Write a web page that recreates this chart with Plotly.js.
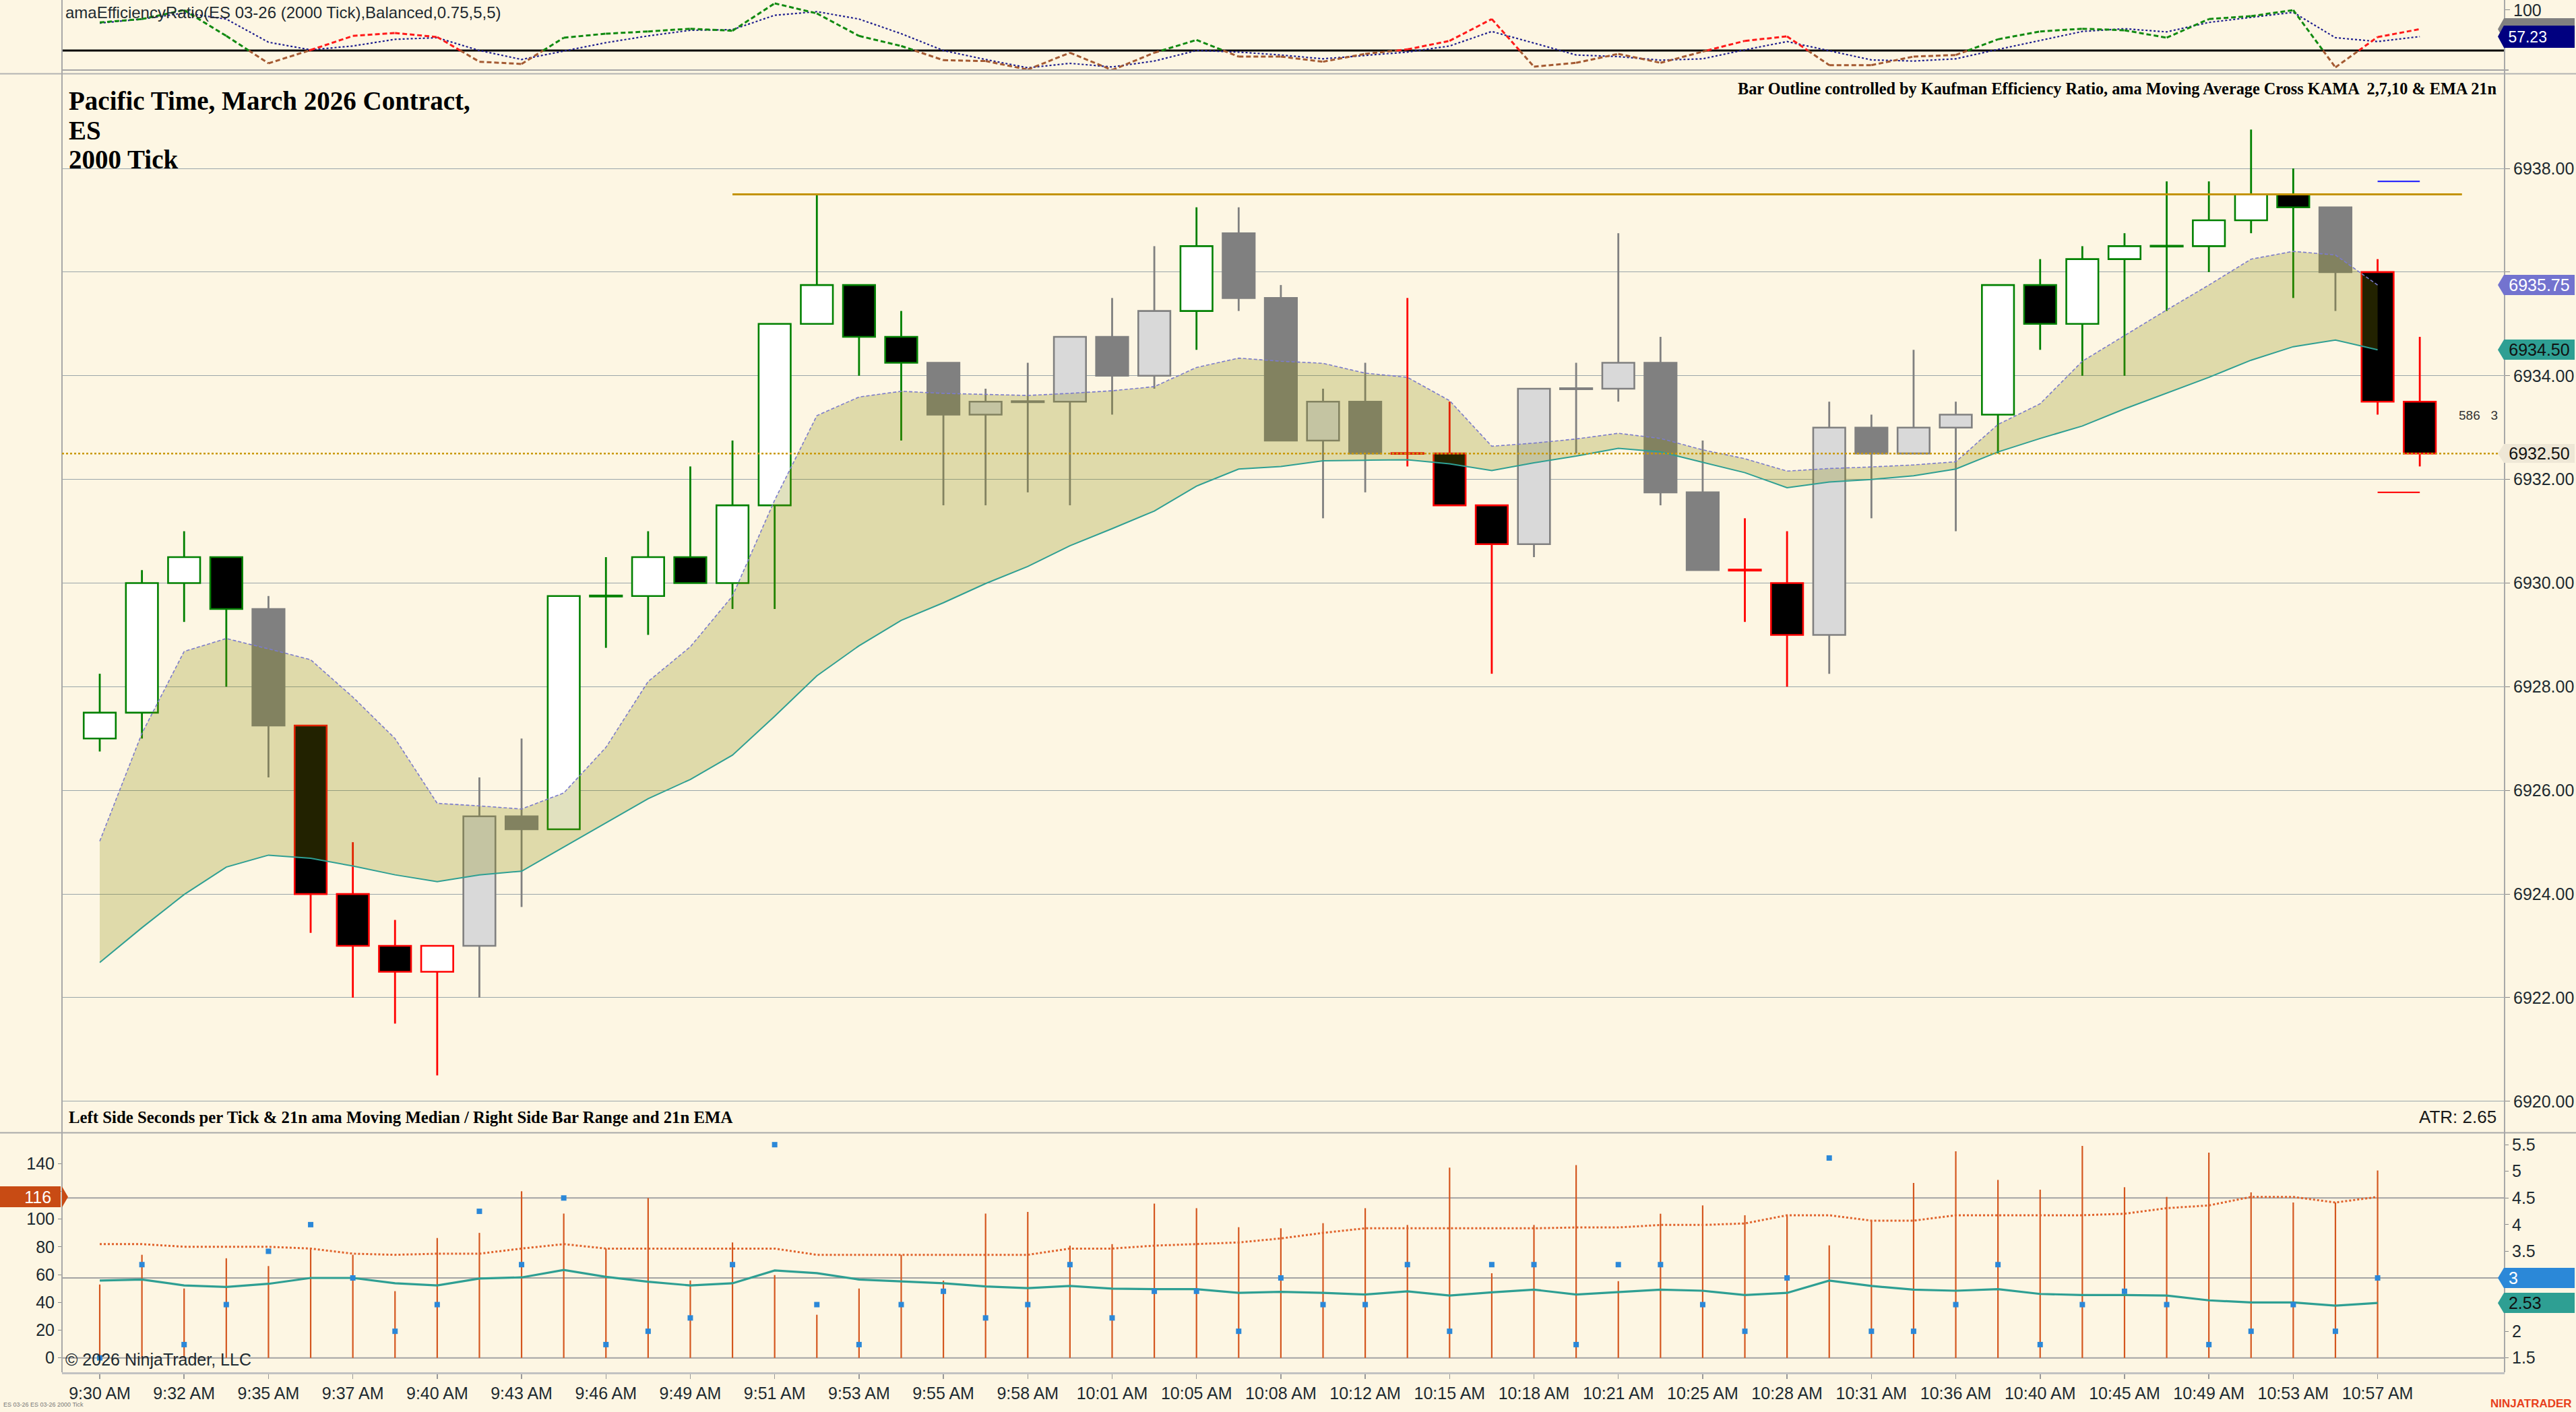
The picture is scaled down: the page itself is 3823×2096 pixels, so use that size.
<!DOCTYPE html>
<html><head><meta charset="utf-8">
<script src="https://cdn.plot.ly/plotly-3.0.1.min.js"></script>
<style>html,body{margin:0;padding:0;background:#fdf6e3;} #chart{width:3823px;height:2096px;}</style>
</head><body><div id="chart"></div>
<script>
// ---------------- DATA ----------------
const times = ['9:30 AM','9:32 AM','9:35 AM','9:37 AM','9:40 AM','9:43 AM','9:46 AM','9:49 AM','9:51 AM','9:53 AM','9:55 AM','9:58 AM','10:01 AM','10:05 AM','10:08 AM','10:12 AM','10:15 AM','10:18 AM','10:21 AM','10:25 AM','10:28 AM','10:31 AM','10:36 AM','10:40 AM','10:45 AM','10:49 AM','10:53 AM','10:57 AM'];

const open  = [6927.0,6927.5,6930.0,6930.5,6929.5,6927.25,6924.0,6923.0,6922.5,6923.0,6925.5,6925.25,6929.75,6929.75,6930.5,6930.0,6931.5,6935.0,6935.75,6934.75,6934.25,6933.25,6933.5,6933.5,6934.75,6934.0,6935.25,6936.75,6935.5,6932.75,6933.5,6932.5,6932.5,6931.5,6930.75,6933.75,6933.75,6934.25,6931.75,6930.25,6930.0,6929.0,6933.0,6932.5,6933.0,6933.25,6935.75,6935.0,6936.25,6936.5,6936.5,6937.0,6937.5,6937.25,6936.0,6933.5];
const high  = [6928.25,6930.25,6931.0,6930.5,6929.75,6927.25,6925.0,6923.5,6923.0,6926.25,6927.0,6929.75,6930.5,6931.0,6932.25,6932.75,6935.0,6937.5,6935.75,6935.25,6934.25,6933.75,6934.25,6934.75,6935.5,6936.5,6937.25,6937.25,6935.75,6933.75,6934.25,6935.5,6933.5,6931.5,6933.75,6934.25,6936.75,6934.75,6932.75,6931.25,6931.0,6933.5,6933.25,6934.5,6933.5,6935.75,6936.25,6936.5,6936.75,6937.75,6937.75,6938.75,6938.0,6937.25,6936.25,6934.75];
const low   = [6926.75,6927.0,6929.25,6928.0,6926.25,6923.25,6922.0,6921.5,6920.5,6922.0,6923.75,6925.25,6928.75,6929.0,6930.0,6929.5,6929.5,6935.0,6934.0,6932.75,6931.5,6931.5,6931.75,6931.5,6933.25,6933.75,6934.5,6935.25,6932.75,6931.25,6931.75,6932.25,6931.5,6928.25,6930.5,6932.5,6933.5,6931.5,6930.25,6929.25,6928.0,6928.25,6931.25,6932.5,6931.0,6932.5,6934.5,6934.0,6934.0,6935.25,6936.0,6936.75,6935.5,6935.25,6933.25,6932.25];
const close = [6927.5,6930.0,6930.5,6929.5,6927.25,6924.0,6923.0,6922.5,6923.0,6925.5,6925.25,6929.75,6929.75,6930.5,6930.0,6931.5,6935.0,6935.75,6934.75,6934.25,6933.25,6933.5,6933.5,6934.75,6934.0,6935.25,6936.5,6935.5,6932.75,6933.5,6932.5,6932.5,6931.5,6930.75,6933.75,6933.75,6934.25,6931.75,6930.25,6930.25,6929.0,6933.0,6932.5,6933.0,6933.25,6935.75,6935.0,6936.25,6936.5,6936.5,6937.0,6937.5,6937.25,6936.0,6933.5,6932.5];

// Kaufman efficiency-ratio state per bar (controls bar outline)
const erState = ['up','up','up','up','flat','down','down','down','down','flat','flat','up','up','up','up','up','up','up','up','up','flat','flat','flat','flat','flat','flat','up','flat','flat','flat','flat','down','down','down','flat','flat','flat','flat','flat','down','down','flat','flat','flat','flat','up','up','up','up','up','up','up','up','flat','down','down'];

// KAMA (upper band edge) and EMA 21 (lower band edge)
const kama = [6925.02,6927.1,6928.68,6928.93,6928.73,6928.52,6927.8,6927.0,6925.75,6925.7,6925.64,6925.95,6926.83,6928.1,6928.77,6929.75,6931.6,6933.23,6933.59,6933.7,6933.66,6933.64,6933.62,6933.66,6933.71,6933.79,6934.16,6934.34,6934.28,6934.24,6934.05,6933.97,6933.52,6932.64,6932.7,6932.78,6932.89,6932.79,6932.57,6932.4,6932.16,6932.21,6932.24,6932.28,6932.34,6933.06,6933.46,6934.28,6934.78,6935.27,6935.75,6936.25,6936.4,6936.33,6935.75];
const ema21 = [6922.68,6923.35,6923.99,6924.52,6924.75,6924.69,6924.54,6924.37,6924.24,6924.37,6924.44,6924.91,6925.38,6925.84,6926.21,6926.68,6927.43,6928.21,6928.79,6929.28,6929.62,6929.99,6930.32,6930.72,6931.05,6931.39,6931.87,6932.2,6932.25,6932.36,6932.37,6932.38,6932.3,6932.17,6932.32,6932.45,6932.6,6932.53,6932.33,6932.13,6931.84,6931.95,6932.0,6932.07,6932.2,6932.53,6932.79,6933.03,6933.36,6933.67,6933.97,6934.3,6934.56,6934.69,6934.5];

const resistanceLevel = 6937.5, resistanceFrom = 15, resistanceTo = 56;
const projHigh = 6937.75, projLow = 6931.75, projFrom = 54, projTo = 55;

// Efficiency ratio panel
const erValue  = [80.1,85.5,100,58.3,14.0,35.5,58.3,63.0,56.5,16.6,13.0,55.4,61.9,65.5,69.9,66.6,110.9,94.6,58.3,42.0,19.1,17.7,3.9,31.1,3.2,31.1,51.8,24.9,24.9,16.6,29.3,36.5,50.3,85.5,8.6,14.8,29.3,14.8,32.9,50.3,57.6,11.1,11.1,24.9,27.5,52.8,65.5,69.9,67.4,55.4,85.5,90.2,100,7.5,56.5,69.2];
const erSignal = [79.0,85.5,95.3,85.5,48.1,35.8,42.0,52.8,55.4,34.7,20.2,33.6,47.4,58.3,67.4,68.4,91.7,97.5,85.5,61.9,34.7,20.2,6.8,14.0,8.2,17.7,34.7,32.2,27.5,21.3,26.4,32.2,42.0,65.5,46.7,27.5,24.9,19.1,21.3,35.8,49.2,34.7,19.5,17.7,21.3,36.5,51.0,65.5,69.9,64.8,80.1,88.0,96.4,55.4,49.2,57.23];
const erThreshold = 34.7;

// Lower panel
const secPerTick = [52.9,74.3,50.0,71.8,66.2,78.8,74.3,48.1,86.4,90.1,120.1,104.0,78.8,115.2,55.8,83.2,59.7,31.1,50.0,74.3,55.7,104.0,105.2,80.9,82.0,111.2,107.9,94.2,93.4,97.1,107.9,95.8,137.1,61.0,95.8,139.0,55.3,103.9,109.9,102.8,103.1,81.1,99.0,126.1,148.9,128.2,121.2,152.8,123.0,116.0,147.9,119.3,112.0,112.0,135.1];
const secMedian = [82.0,82.0,80.1,80.1,80.1,78.8,75.1,74.3,75.1,75.1,78.8,82.0,78.8,78.8,78.8,78.8,78.8,74.3,74.3,74.3,74.3,74.3,74.3,78.8,78.8,80.9,82.0,83.2,86.1,90.1,93.4,93.4,93.4,93.4,93.4,94.0,94.0,95.8,95.8,96.9,102.8,102.8,98.9,98.9,102.8,102.8,102.8,102.8,103.9,107.9,109.9,116.0,116.0,112.0,116.0];
const barRange = [1.5,3.25,1.75,2.5,3.5,4.0,3.0,2.0,2.5,4.25,3.25,4.5,1.75,2.0,2.25,3.25,5.5,2.5,1.75,2.5,2.75,2.25,2.5,3.25,2.25,2.75,2.75,2.0,3.0,2.5,2.5,3.25,2.0,3.25,3.25,1.75,3.25,3.25,2.5,2.0,3.0,5.25,2.0,2.0,2.5,3.25,1.75,2.5,2.75,2.5,1.75,2.0,2.5,2.0,3.0];
const rangeEma = [2.95,2.97,2.86,2.83,2.89,3.0,3.0,2.9,2.86,2.99,3.01,3.15,3.02,2.93,2.86,2.9,3.14,3.09,2.97,2.93,2.9,2.84,2.81,2.85,2.8,2.79,2.79,2.72,2.74,2.72,2.69,2.75,2.67,2.73,2.78,2.69,2.74,2.78,2.76,2.68,2.72,2.95,2.85,2.78,2.76,2.79,2.7,2.68,2.68,2.67,2.58,2.54,2.54,2.48,2.53];

const atrText = 'ATR: 2.65';

// tick labels
const priceTicks = [6920,6922,6924,6926,6928,6930,6932,6934,6936,6938];
const secTicks = [0,20,40,60,80,100,120,140];
const rangeTicks = [1.5,2,2.5,3,3.5,4,4.5,5,5.5];

// ---------------- LAYOUT HELPERS ----------------
const W = 3823, H = 2096;
const px = v => v / W;
const py = v => 1 - v / H;
const xDom = [px(92), px(3717)];
const BG = '#fdf6e3';
const SANS = 'Liberation Sans, Arial, sans-serif';
const SERIF = 'Liberation Serif, Times New Roman, serif';

const idx = open.map((_, i) => i);
const idxB = secPerTick.map((_, i) => i);
const idxK = kama.map((_, i) => i);

const outlineColors = {up: '#008000', down: '#ff0000', flat: '#808080'};
const outline = erState.map(s => outlineColors[s]);
const bodyFill = idx.map(i => {
  const up = close[i] >= open[i];
  if (erState[i] === 'flat') return up ? '#d9d9d9' : '#808080';
  return up ? '#ffffff' : '#000000';
});
const bodyBase = idx.map(i => close[i] === open[i] ? open[i] - 0.008 : Math.min(open[i], close[i]));
const bodyLen  = idx.map(i => close[i] === open[i] ? 0.016 : Math.abs(close[i] - open[i]));

const lastClose = close[close.length - 1];
const lastKama = kama[kama.length - 1], lastEma = ema21[ema21.length - 1];
const lastRange = barRange[barRange.length - 1], lastRangeEma = rangeEma[rangeEma.length - 1];
const lastMedian = secMedian[secMedian.length - 1];
const lastEr = erValue[erValue.length - 1], lastSig = erSignal[erSignal.length - 1];

// ---------------- TRACES ----------------
const traces = [];

// wicks
traces.push({type: 'bar', x: idx, base: low, y: idx.map(i => high[i] - low[i]), width: 0.045,
  marker: {color: outline, line: {width: 0}}, xaxis: 'x', yaxis: 'y2', hoverinfo: 'skip', showlegend: false});
// bodies
traces.push({type: 'bar', x: idx, base: bodyBase, y: bodyLen, width: 0.76,
  marker: {color: bodyFill, line: {color: outline, width: 2.6}}, xaxis: 'x', yaxis: 'y2', hoverinfo: 'skip', showlegend: false});

// band: EMA then KAMA with fill to it
traces.push({type: 'scatter', mode: 'lines', x: idxK, y: ema21, line: {color: '#2e9f93', width: 2},
  xaxis: 'x', yaxis: 'y2', hoverinfo: 'skip', showlegend: false});
traces.push({type: 'scatter', mode: 'lines', x: idxK, y: kama, line: {color: '#7b7bcc', width: 1.6, dash: '5px,3px'},
  fill: 'tonexty', fillcolor: 'rgba(136,136,0,0.25)', xaxis: 'x', yaxis: 'y2', hoverinfo: 'skip', showlegend: false});

// resistance line
traces.push({type: 'scatter', mode: 'lines', x: [resistanceFrom, resistanceTo], y: [resistanceLevel, resistanceLevel],
  line: {color: '#c39300', width: 3}, xaxis: 'x', yaxis: 'y2', hoverinfo: 'skip', showlegend: false});
// projections
traces.push({type: 'scatter', mode: 'lines', x: [projFrom, projTo], y: [projHigh, projHigh],
  line: {color: '#1010ff', width: 2.2}, xaxis: 'x', yaxis: 'y2', hoverinfo: 'skip', showlegend: false});
traces.push({type: 'scatter', mode: 'lines', x: [projFrom, projTo], y: [projLow, projLow],
  line: {color: '#ff1010', width: 2.2}, xaxis: 'x', yaxis: 'y2', hoverinfo: 'skip', showlegend: false});

// ER panel: signal line
traces.push({type: 'scatter', mode: 'lines', x: idx, y: erSignal, line: {color: '#1f1f8f', width: 2.2, dash: 'dot'},
  xaxis: 'x', yaxis: 'y', hoverinfo: 'skip', showlegend: false});
// ER colored line split by state at the threshold
const segs = {up: {x: [], y: []}, down: {x: [], y: []}, flat: {x: [], y: []}};
function addSeg(k, x0, y0, x1, y1) { segs[k].x.push(x0, x1, null); segs[k].y.push(y0, y1, null); }
function aboveKey(j, k) {
  if (erState[j] !== 'flat') return erState[j];
  if (erState[k] !== 'flat') return erState[k];
  return 'up';
}
for (let i = 1; i < erValue.length; i++) {
  const a = erValue[i - 1], b = erValue[i];
  const aA = a >= erThreshold, bA = b >= erThreshold;
  if (aA && bA) addSeg(aboveKey(i, i - 1), i - 1, a, i, b);
  else if (!aA && !bA) addSeg('flat', i - 1, a, i, b);
  else {
    const xc = i - 1 + (erThreshold - a) / (b - a);
    if (aA) { addSeg(aboveKey(i - 1, i), i - 1, a, xc, erThreshold); addSeg('flat', xc, erThreshold, i, b); }
    else { addSeg('flat', i - 1, a, xc, erThreshold); addSeg(aboveKey(i, i - 1), xc, erThreshold, i, b); }
  }
}
const segColors = {up: '#118a11', down: '#ff1a1a', flat: '#a45a32'};
['flat', 'down', 'up'].forEach(k => {
  traces.push({type: 'scatter', mode: 'lines', x: segs[k].x, y: segs[k].y, connectgaps: false,
    line: {color: segColors[k], width: 3, dash: '7px,4px'}, xaxis: 'x', yaxis: 'y', hoverinfo: 'skip', showlegend: false});
});

// Lower panel
traces.push({type: 'bar', x: idxB, base: idxB.map(() => 0), y: secPerTick, width: 0.035,
  marker: {color: '#d4561e', line: {width: 0}}, xaxis: 'x', yaxis: 'y3', hoverinfo: 'skip', showlegend: false});
traces.push({type: 'scatter', mode: 'lines', x: idxB, y: secMedian, line: {color: '#e0632c', width: 3, dash: 'dot'},
  xaxis: 'x', yaxis: 'y3', hoverinfo: 'skip', showlegend: false});
traces.push({type: 'scatter', mode: 'lines', x: idxB, y: rangeEma, line: {color: '#2e9f93', width: 3.2},
  xaxis: 'x', yaxis: 'y4', hoverinfo: 'skip', showlegend: false});
traces.push({type: 'scatter', mode: 'markers', x: idxB, y: barRange, marker: {symbol: 'square', size: 8, color: '#2b88d8'},
  xaxis: 'x', yaxis: 'y4', hoverinfo: 'skip', showlegend: false});

// ---------------- SHAPES ----------------
const shapes = [];
function pline(x0, y0, x1, y1, color, width, dash) {
  shapes.push({type: 'line', xref: 'paper', yref: 'paper', x0: px(x0), y0: py(y0), x1: px(x1), y1: py(y1),
    line: {color: color, width: width, dash: dash || 'solid'}, layer: 'above'});
}
pline(92, 104, 3723, 104, '#a5a5a5', 2);
pline(0, 109.5, 3823, 109.5, '#b3b3b3', 2);
pline(0, 1681.5, 3823, 1681.5, '#a9a9a9', 2);
pline(92, 0, 92, 2037, '#a8a8a8', 2);
pline(3717, 0, 3717, 2037, '#a8a8a8', 2);

// ER threshold line
shapes.push({type: 'line', xref: 'paper', yref: 'y', x0: xDom[0], x1: xDom[1], y0: erThreshold, y1: erThreshold,
  line: {color: '#000000', width: 3}, layer: 'below'});
// current price dotted line
shapes.push({type: 'line', xref: 'paper', yref: 'y2', x0: xDom[0], x1: xDom[1], y0: lastClose, y1: lastClose,
  line: {color: '#c99800', width: 2.5, dash: 'dot'}, layer: 'above'});
// lower panel horizontal guides (right scale)
[1.5, 3, 4.5].forEach(v => {
  shapes.push({type: 'line', xref: 'paper', yref: 'y4', x0: xDom[0], x1: xDom[1], y0: v, y1: v,
    line: {color: '#a3a3a3', width: 2}, layer: 'below'});
});

// ---------------- LABELS ----------------
const annotations = [];
function txt(text, x, y, opts) {
  annotations.push(Object.assign({text: text, x: px(x), y: py(y), xref: 'paper', yref: 'paper',
    xanchor: 'left', yanchor: 'middle', showarrow: false,
    font: {family: SANS, size: 24, color: '#1a1a1a'}}, opts || {}));
}
txt('amaEfficiencyRatio(ES 03-26 (2000 Tick),Balanced,0.75,5,5)', 95, 18, {font: {family: SANS, size: 24, color: '#1e2a30'}});
txt('<b>Pacific Time, March 2026 Contract,</b>', 100, 149, {font: {family: SERIF, size: 39, color: '#000'}});
txt('<b>ES</b>', 100, 193, {font: {family: SERIF, size: 39, color: '#000'}});
txt('<b>2000 Tick</b>', 100, 237, {font: {family: SERIF, size: 39, color: '#000'}});
txt('<b>Bar Outline controlled by Kaufman Efficiency Ratio, ama Moving Average Cross KAMA  2,7,10 &amp; EMA 21n</b>', 3707, 131,
  {xanchor: 'right', font: {family: SERIF, size: 24.3, color: '#000'}});
txt('<b>Left Side Seconds per Tick &amp; 21n ama Moving Median / Right Side Bar Range and 21n EMA</b>', 100, 1658,
  {font: {family: SERIF, size: 24.8, color: '#000'}});
txt(atrText, 3707, 1658, {xanchor: 'right', font: {family: SANS, size: 26, color: '#1a1a1a'}});
txt('\u00a9 2026 NinjaTrader, LLC', 95, 2018, {font: {family: SANS, size: 25, color: '#1e2a30'}});
txt('<b>NINJATRADER</b>', 3819, 2083, {xanchor: 'right', font: {family: SANS, size: 17, color: '#e8401c'}});
txt('ES 03-26 ES 03-26 2000 Tick', 3, 2085, {font: {family: SANS, size: 9, color: '#777'}});
txt('586\u00a0\u00a0\u00a03', 3709, 616, {xanchor: 'right', font: {family: SANS, size: 19, color: '#333'}});

function valueLabel(text, yref, yval, bg, fg, opts) {
  const o = opts || {};
  const left = o.left === undefined ? 3716 : o.left;
  const w = o.w || 107, h = o.h || 30;
  annotations.push({text: text, xref: 'paper', yref: yref, x: px(left), y: yval,
    xanchor: 'left', yanchor: 'middle', showarrow: false, width: w - 2, height: h,
    align: o.align || 'left', borderpad: 0, bgcolor: bg,
    bordercolor: o.border || bg, borderwidth: o.border ? 1 : 0,
    font: {family: SANS, size: o.size || 25, color: fg}});
  const dir = o.arrowRight ? 1 : -1;
  const ax = o.arrowRight ? left + w : left;
  shapes.push({type: 'path', xref: 'paper', yref: yref, xsizemode: 'pixel', ysizemode: 'pixel',
    xanchor: px(ax), yanchor: yval, path: `M0,${-h / 2} L${dir * 9},0 L0,${h / 2} Z`,
    fillcolor: bg, line: {width: 0}, layer: 'above'});
}
// top panel: ER value tag sits behind the signal tag
valueLabel(' ', 'y', lastEr, '#808080', '#333', {h: 32, size: 23});
valueLabel('\u00a0' + lastSig.toFixed(2), 'y', lastSig, '#000080', '#ffffff', {h: 33, size: 23});
// main panel
valueLabel(lastKama.toFixed(2), 'y2', lastKama, '#7373cf', '#ffffff', {align: 'center'});
valueLabel(lastEma.toFixed(2), 'y2', lastEma, '#2e9f93', '#111111', {align: 'center'});
valueLabel(lastClose.toFixed(2), 'y2', lastClose, '#eee7d6', '#111111', {align: 'center', h: 28});
// lower panel
valueLabel('\u00a0' + String(lastRange), 'y4', lastRange, '#2b88d8', '#ffffff', {h: 30});
valueLabel('\u00a0' + lastRangeEma.toFixed(2), 'y4', lastRangeEma, '#2e9f93', '#111111', {h: 30});
valueLabel(String(lastMedian) + '\u00a0\u00a0', 'y3', lastMedian, '#c84b14', '#ffffff',
  {left: 0, w: 92, align: 'right', arrowRight: true, h: 31});

// tick texts covered by value tags are left blank (gridlines/ticks kept)
function coveredBy(v, tags, half) { return tags.some(t => Math.abs(t - v) < half); }
const priceText = priceTicks.map(p => coveredBy(p, [lastKama, lastEma, lastClose], 0.4) ? '' : p.toFixed(2));
const secText = secTicks.map(v => coveredBy(v, [lastMedian], 10) ? '' : String(v));
const rangeText = rangeTicks.map(v => coveredBy(v, [lastRange, lastRangeEma], 0.2) ? '' : String(v));

// ---------------- AXES ----------------
const tickIdx = times.map((_, i) => i * 2);
const axFont = {family: SANS, size: 25, color: '#1e2a30'};

const layout = {
  width: W, height: H,
  margin: {l: 0, r: 0, t: 0, b: 0, pad: 0},
  paper_bgcolor: BG, plot_bgcolor: BG,
  barmode: 'overlay', hovermode: false, showlegend: false, dragmode: false,
  xaxis: {domain: xDom, range: [-0.895, 57.01], anchor: 'y3', tickmode: 'array', tickvals: tickIdx, ticktext: times,
    tickfont: axFont, ticks: 'outside', ticklen: 7, tickcolor: '#999', tickwidth: 1.5,
    showgrid: false, zeroline: false, showline: true, linecolor: '#c2c2c2', linewidth: 3, fixedrange: true},
  yaxis: {domain: [py(104), 1], range: [3.14, 116.3], anchor: 'x', side: 'right', tickmode: 'array', tickvals: [100],
    tickfont: axFont, ticks: 'outside', ticklen: 7, tickcolor: '#888', showgrid: false, zeroline: false, showline: false, fixedrange: true},
  yaxis2: {domain: [py(1681), py(110)], range: [6919.40, 6939.82], anchor: 'x', side: 'right', tickmode: 'array',
    tickvals: priceTicks, ticktext: priceText, tickfont: axFont, ticks: 'outside', ticklen: 7,
    tickcolor: '#888', showgrid: true, gridcolor: '#9aa6aa', gridwidth: 1, zeroline: false, showline: false, fixedrange: true},
  yaxis3: {domain: [py(2037), py(1682)], range: [-10.34, 162.0], anchor: 'x', side: 'left', tickmode: 'array',
    tickvals: secTicks, ticktext: secText, tickfont: axFont, ticks: 'outside', ticklen: 5, tickcolor: '#888',
    showgrid: false, zeroline: false, showline: false, fixedrange: true},
  yaxis4: {overlaying: 'y3', range: [1.231, 5.717], anchor: 'x', side: 'right', tickmode: 'array',
    tickvals: rangeTicks, ticktext: rangeText,
    tickfont: axFont, ticks: 'outside', ticklen: 5, tickcolor: '#888', showgrid: false, zeroline: false, showline: false, fixedrange: true},
  shapes: shapes,
  annotations: annotations
};

Plotly.newPlot('chart', traces, layout, {displayModeBar: false, staticPlot: true});
</script></body></html>
